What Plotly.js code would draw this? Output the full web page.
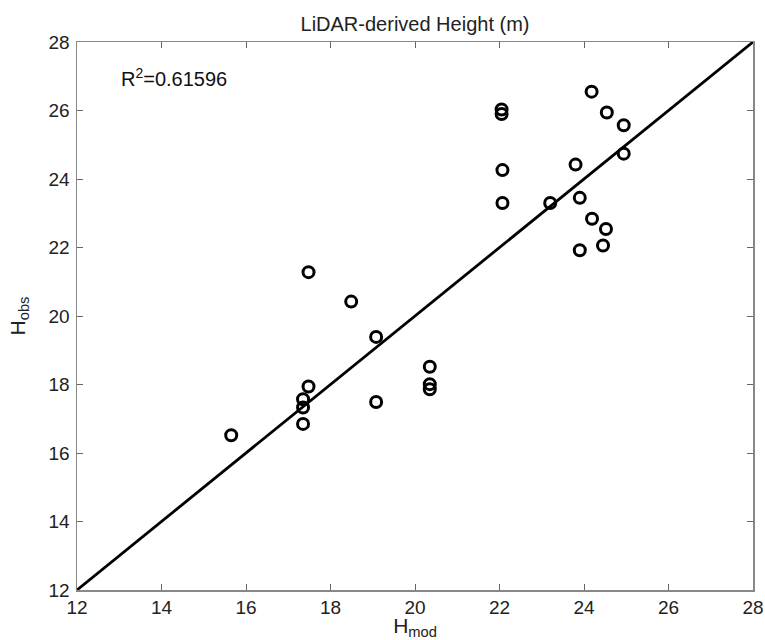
<!DOCTYPE html>
<html>
<head>
<meta charset="utf-8">
<script src="https://cdn.plot.ly/plotly-3.0.1.min.js"></script>
<style>html,body{margin:0;padding:0;background:#fff;}#chart{width:765px;height:640px;}</style>
</head>
<body>
<div id="chart"></div>
<script>
const hMod = [15.65, 17.35, 17.35, 17.35, 17.48, 17.48, 18.49, 19.08, 19.08, 20.35, 20.35, 20.35,
              22.05, 22.05, 22.07, 22.07, 23.20, 23.80, 23.90, 23.90, 24.18, 24.19, 24.45, 24.52, 24.54, 24.94, 24.94];
const hObs = [16.52, 16.85, 17.33, 17.57, 17.94, 21.28, 20.42, 19.39, 17.49, 18.52, 18.01, 17.86,
              26.03, 25.90, 24.26, 23.30, 23.30, 24.42, 23.45, 21.92, 26.55, 22.84, 22.06, 22.54, 25.94, 25.57, 24.74];
// 1:1 reference line
const lineX = [12, 28];
const lineY = [12, 28];
const tickVals = [12, 14, 16, 18, 20, 22, 24, 26, 28];
const titleText = 'LiDAR-derived Height (m)';
const r2Text = 'R<sup>2</sup>=0.61596';

const FONT = 'Liberation Sans, Arial, Helvetica, sans-serif';

const traces = [
  {x: lineX, y: lineY, mode: 'lines', type: 'scatter', line: {color: '#000', width: 2.8}, hoverinfo: 'skip'},
  {x: hMod, y: hObs, mode: 'markers', type: 'scatter',
   marker: {symbol: 'circle-open', size: 11, color: '#000', line: {color: '#000', width: 3}}}
];

const axisCommon = {
  range: [12, 28], tickvals: tickVals, ticks: 'inside', ticklen: 6, tickcolor: '#666', tickwidth: 1,
  showline: true, linecolor: '#888', linewidth: 1.5, mirror: 'ticks', showgrid: false, zeroline: false,
  tickfont: {family: FONT, size: 19, color: '#222'}
};

const layout = {
  width: 765, height: 640,
  margin: {l: 77, r: 12, t: 42, b: 50},
  paper_bgcolor: '#fff', plot_bgcolor: '#fff',
  showlegend: false,
  font: {family: FONT, color: '#222'},
  title: {text: titleText, x: 0.5, xref: 'paper', xanchor: 'center', y: 0.963, yanchor: 'middle',
          font: {family: FONT, size: 20, color: '#222'}},
  xaxis: Object.assign({}, axisCommon, {
    title: {text: 'H<sub>mod</sub>', standoff: 2, font: {family: FONT, size: 21, color: '#222'}},
    ticklabelstandoff: 0
  }),
  yaxis: Object.assign({}, axisCommon, {
    title: {text: 'H<sub>obs</sub>', standoff: 17, font: {family: FONT, size: 21, color: '#222'}},
    ticklabelstandoff: 2
  }),
  annotations: [{
    xref: 'paper', yref: 'paper', x: 0.062, y: 0.936, xanchor: 'left', yanchor: 'middle',
    text: r2Text, showarrow: false,
    font: {family: FONT, size: 20, color: '#111'}
  }]
};

Plotly.newPlot('chart', traces, layout, {displayModeBar: false, staticPlot: true});
</script>
</body>
</html>
